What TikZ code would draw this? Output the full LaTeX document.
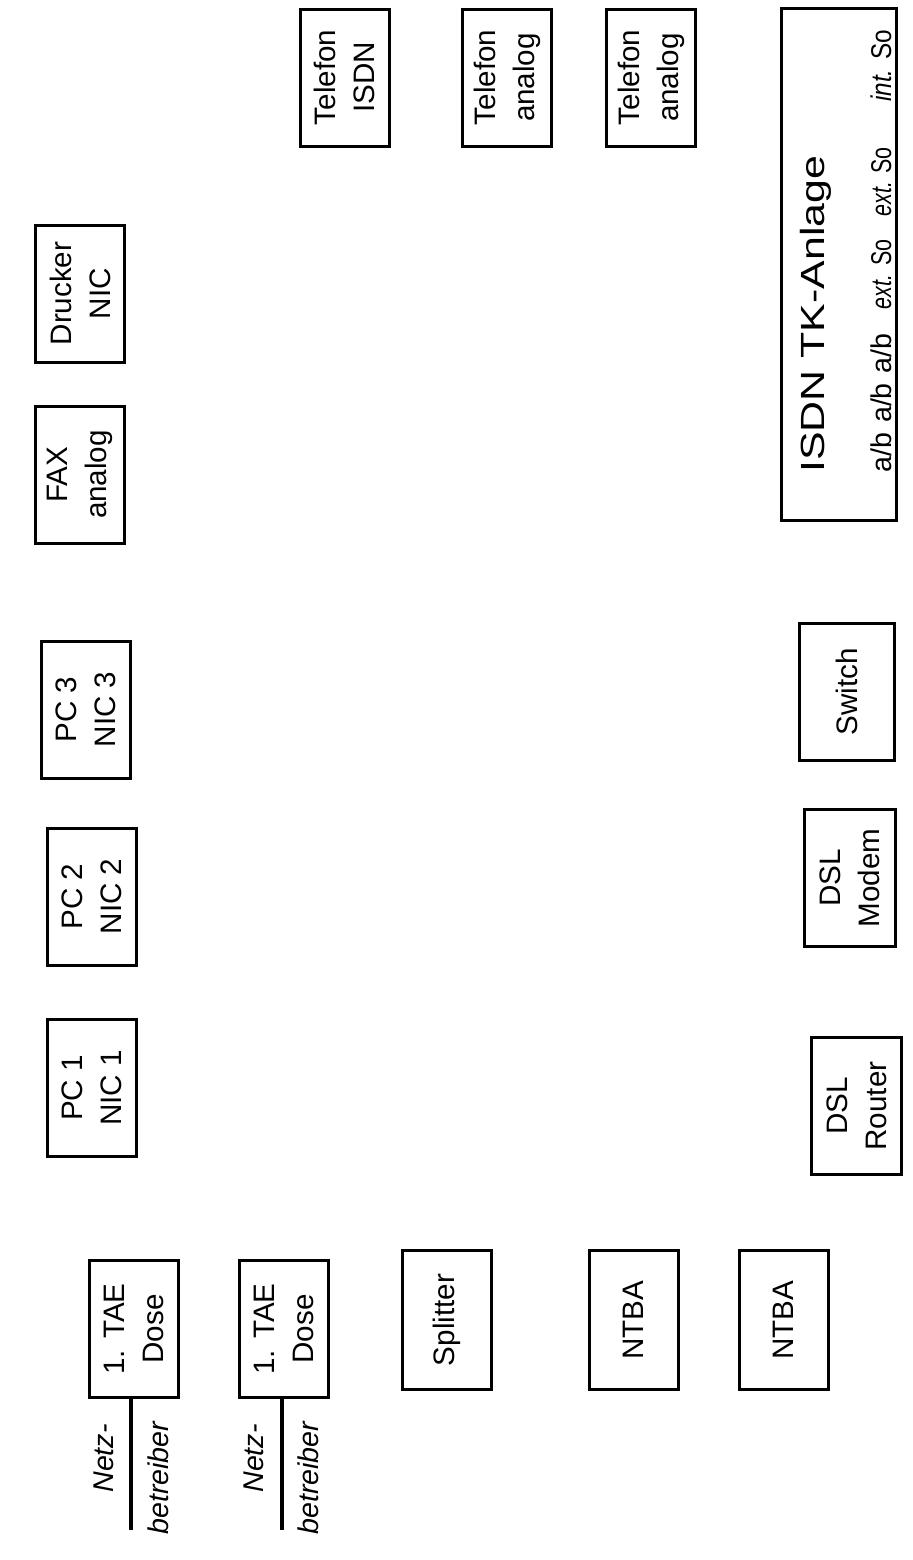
\documentclass[tikz,border=0pt]{standalone}
\usepackage{fontspec}
\setmainfont{Liberation Sans}
\usetikzlibrary{positioning}

\newcommand{\schmal}[1]{\scalebox{0.75}[1]{#1}}

\begin{document}
\begin{tikzpicture}[
      x=0.5pt, y=-0.5pt,
      geraet/.style={draw, line width=1.5pt, rotate=90, align=center, inner sep=1pt,
                     font=\fontsize{14.8}{19.5}\selectfont,
                     minimum width=68.5pt, minimum height=44.5pt},
      anlage/.style={draw, line width=1.5pt, rotate=90,
                     minimum width=256pt, minimum height=57.5pt},
      zeile/.style={rotate=90, anchor=base west, inner sep=0pt,
                    font=\fontsize{14.3}{19}\selectfont},
      kabel/.style={line width=1.8pt}
    ]
    \useasboundingbox (0,0) rectangle (912,1560);

    \node[geraet] (tisdn)   at (344.5,77.5) {Telefon\\ ISDN};
    \node[geraet] (tana1)   at (507,77.5)   {Telefon\\ analog};
    \node[geraet] (tana2)   at (651,77.5)   {Telefon\\ analog};
    \node[anlage] (tk)      at (839,264.5)  {};
    \node[zeile, font=\fontsize{16.75}{20}\selectfont] (tktitel) at (824,473)
         {\scalebox{1.28}[1]{ISDN TK-Anlage}};
    \node[zeile] (tkports)  at (891,473)
         {a/b\hspace{5pt}a/b\hspace{5pt}a/b\hspace{12pt}\schmal{\textit{ext.}}\hspace{4.5pt}\schmal{So}\hspace{11.5pt}\schmal{\textit{ext.}}\hspace{4pt}\schmal{So}\hspace{23pt}\scalebox{0.85}[1]{\textit{int.}}\hspace{5pt}\scalebox{0.85}[1]{So}};

    \node[geraet] (drucker) at (80,293.5)   {Drucker\\ NIC};
    \node[geraet] (fax)     at (80,474.5)   {FAX\\ analog};
    \node[geraet] (pc3)     at (86,709.5)   {PC 3\\ NIC 3};
    \node[geraet] (pc2)     at (91.5,896.5) {PC 2\\ NIC 2};
    \node[geraet] (pc1)     at (91.5,1088)  {PC 1\\ NIC 1};

    \node[geraet, minimum height=47.5pt] (switch) at (847,692)    {Switch};
    \node[geraet, minimum height=45.5pt] (modem)  at (850,878)    {DSL\\ Modem};
    \node[geraet, minimum height=45pt]   (router) at (856.5,1106) {DSL\\ Router};

    \node[geraet] (tae1)     at (134,1329)   {1. TAE\\ Dose};
    \node[geraet] (tae2)     at (284,1329)   {1. TAE\\ Dose};
    \node[geraet, minimum width=69.5pt] (splitter) at (447,1320)   {Splitter};
    \node[geraet, minimum width=69.5pt] (ntba1)    at (633.5,1320) {NTBA};
    \node[geraet, minimum width=69.5pt] (ntba2)    at (783.5,1320) {NTBA};

    \coordinate (netz1) at (131,1530);
    \coordinate (netz2) at (282,1530);
    \draw[kabel] (tae1.west -| netz1) -- (netz1);
    \draw[kabel] (tae2.west -| netz2) -- (netz2);
    \node[zeile] (netzlab1) at (113,1493) {\textit{Netz-}};
    \node[zeile] (betrlab1) at (168,1535) {\textit{betreiber}};
    \node[zeile] (netzlab2) at (263,1493) {\textit{Netz-}};
    \node[zeile] (betrlab2) at (318,1535) {\textit{betreiber}};
  \end{tikzpicture}
\end{document}
